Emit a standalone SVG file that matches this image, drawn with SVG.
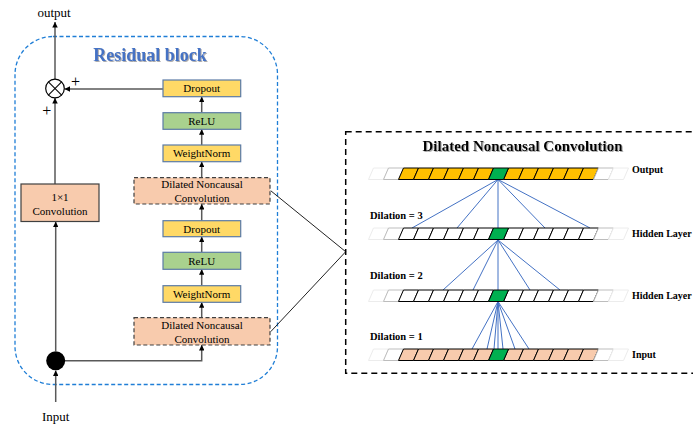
<svg xmlns="http://www.w3.org/2000/svg" xmlns:xlink="http://www.w3.org/1999/xlink" width="693" height="429" viewBox="0 0 693 429">
<style>
text{font-family:"Liberation Serif","Times New Roman",serif;fill:#000}
.lbl{font-size:11px;text-anchor:middle}
.io{font-size:13px;text-anchor:middle}
.rlab{font-size:10px;font-weight:bold}
.dil{font-size:10.5px;font-weight:bold}
.plus{font-size:16px;text-anchor:middle}
.flow{stroke:#595959;stroke-width:1.5;fill:none}
.yel{fill:#FFD966;stroke:#5B7BA6;stroke-width:1.2}
.grn{fill:#A9D18E;stroke:#5B7BA6;stroke-width:1.2}
.dconv{fill:#F8CBAD;stroke:#404040;stroke-width:1.2;stroke-dasharray:4 2.5}
.c-or{fill:#FFC000;stroke:#000;stroke-width:1}
.c-wh{fill:#fff;stroke:#000;stroke-width:1}
.c-in{fill:#F8CBAD;stroke:#000;stroke-width:1}
.c-gr{fill:#00B050;stroke:#000;stroke-width:1}
.c-f1{fill:#fff;stroke:#bdbdbd;stroke-width:1}
.c-f2{fill:#fff;stroke:#ececec;stroke-width:1}
.blue{stroke:#4472C4;stroke-width:1;fill:none}
</style>
<defs>
<marker id="ah" viewBox="0 0 10 10" refX="10" refY="5" markerWidth="5.5" markerHeight="5.5" markerUnits="userSpaceOnUse" orient="auto">
<path d="M0,0 L10,5 L0,10 Z" fill="#000"/>
</marker>
<path id="cell" d="M0,11.5 L5,0 L20,0 L15,11.5 Z"/>
<filter id="sh" x="-5%" y="-20%" width="110%" height="150%">
<feDropShadow dx="1" dy="1" stdDeviation="0.6" flood-color="#888" flood-opacity="0.7"/>
</filter>
</defs>
<rect width="693" height="429" fill="#fff"/>

<g id="residual-block">
<rect x="15" y="36.5" width="262.5" height="348" rx="38" ry="38" fill="none" stroke="#1F7ED6" stroke-width="1.3" stroke-dasharray="4 2.5"/>
<text x="150" y="61" style="font-size:18px;font-weight:bold;fill:#4472C4;text-anchor:middle" filter="url(#sh)">Residual block</text>
</g>

<g id="connectors">
<line class="flow" x1="55" y1="79" x2="55" y2="22" marker-end="url(#ah)"/>
<line class="flow" x1="163" y1="89" x2="64.5" y2="89" marker-end="url(#ah)"/>
<line class="flow" x1="55" y1="184" x2="55" y2="98" marker-end="url(#ah)"/>
<line class="flow" x1="201.7" y1="112.7" x2="201.7" y2="96.7" marker-end="url(#ah)"/>
<line class="flow" x1="201.7" y1="145" x2="201.7" y2="129.3" marker-end="url(#ah)"/>
<line class="flow" x1="201.7" y1="177.7" x2="201.7" y2="161.7" marker-end="url(#ah)"/>
<line class="flow" x1="201.7" y1="220.7" x2="201.7" y2="204" marker-end="url(#ah)"/>
<line class="flow" x1="201.7" y1="252.3" x2="201.7" y2="236.7" marker-end="url(#ah)"/>
<line class="flow" x1="201.7" y1="285.7" x2="201.7" y2="269.3" marker-end="url(#ah)"/>
<line class="flow" x1="201.7" y1="317.7" x2="201.7" y2="302.3" marker-end="url(#ah)"/>
<polyline class="flow" points="65,360.7 201.7,360.7 201.7,345" marker-end="url(#ah)"/>
<line class="flow" x1="55.7" y1="351" x2="55.7" y2="221.7" marker-end="url(#ah)"/>
<line class="flow" x1="55.7" y1="402" x2="55.7" y2="370.5" marker-end="url(#ah)"/>
<line x1="270.7" y1="190.7" x2="345.7" y2="251.7" stroke="#222" stroke-width="1"/>
<line x1="270.7" y1="331.7" x2="345.7" y2="251.7" stroke="#222" stroke-width="1"/>
</g>

<text class="io" x="54" y="17">output</text>
<text class="io" x="55.7" y="421">Input</text>

<g id="sum">
<circle cx="55" cy="88.5" r="9.3" fill="#fff" stroke="#000" stroke-width="1.2"/>
<line x1="48.4" y1="81.9" x2="61.6" y2="95.1" stroke="#000" stroke-width="1.1"/>
<line x1="61.6" y1="81.9" x2="48.4" y2="95.1" stroke="#000" stroke-width="1.1"/>
<text class="plus" x="75.5" y="87">+</text>
<text class="plus" x="46.7" y="116">+</text>
</g>

<g id="split"><circle cx="55.7" cy="360.7" r="9.5" fill="#000"/></g>

<g id="conv1x1">
<rect x="21" y="184" width="78" height="37.5" fill="#F8CBAD" stroke="#404040" stroke-width="1.2"/>
<text class="lbl" x="60" y="201">1×1</text>
<text class="lbl" x="60" y="214.5">Convolution</text>
</g>

<g id="dropout2">
<rect class="yel" x="163" y="80" width="77.7" height="16.7"/>
<text class="lbl" x="201.7" y="92.3">Dropout</text>
</g>
<g id="relu2">
<rect class="grn" x="163" y="112.7" width="77.7" height="16.6"/>
<text class="lbl" x="201.7" y="125">ReLU</text>
</g>
<g id="weightnorm2">
<rect class="yel" x="163" y="145" width="77.7" height="16.7"/>
<text class="lbl" x="201.7" y="157.3">WeightNorm</text>
</g>
<g id="dconv2">
<rect class="dconv" x="134" y="177.7" width="136" height="26.3"/>
<text class="lbl" x="202" y="188.3">Dilated Noncausal</text>
<text class="lbl" x="202" y="202">Convolution</text>
</g>
<g id="dropout1">
<rect class="yel" x="163" y="220.7" width="77.7" height="16"/>
<text class="lbl" x="201.7" y="232.7">Dropout</text>
</g>
<g id="relu1">
<rect class="grn" x="163" y="252.3" width="77.7" height="17"/>
<text class="lbl" x="201.7" y="264.8">ReLU</text>
</g>
<g id="weightnorm1">
<rect class="yel" x="163" y="285.7" width="77.7" height="16.6"/>
<text class="lbl" x="201.7" y="298">WeightNorm</text>
</g>
<g id="dconv1">
<rect class="dconv" x="134" y="317.7" width="136" height="27.3"/>
<text class="lbl" x="202" y="329">Dilated Noncausal</text>
<text class="lbl" x="202" y="342.5">Convolution</text>
</g>

<g id="dilated-panel">
<rect x="345.7" y="131.7" width="360" height="241.6" fill="none" stroke="#000" stroke-width="1.5" stroke-dasharray="6 4"/>
<text x="522.5" y="151" style="font-size:15px;font-weight:bold;text-anchor:middle" filter="url(#sh)">Dilated Noncausal Convolution</text>
</g>

<g id="dilation-lines">
<line class="blue" x1="498" y1="179.5" x2="412" y2="228"/>
<line class="blue" x1="498" y1="179.5" x2="457" y2="228"/>
<line class="blue" x1="498" y1="179.5" x2="498" y2="228"/>
<line class="blue" x1="498" y1="179.5" x2="545" y2="228"/>
<line class="blue" x1="498" y1="179.5" x2="590" y2="228"/>
<line class="blue" x1="498" y1="240" x2="443" y2="290"/>
<line class="blue" x1="498" y1="240" x2="473" y2="290"/>
<line class="blue" x1="498" y1="240" x2="498" y2="290"/>
<line class="blue" x1="498" y1="240" x2="530" y2="290"/>
<line class="blue" x1="498" y1="240" x2="560" y2="290"/>
<line class="blue" x1="498" y1="301.5" x2="472" y2="349"/>
<line class="blue" x1="498" y1="301.5" x2="487" y2="349"/>
<line class="blue" x1="498" y1="301.5" x2="494" y2="349"/>
<line class="blue" x1="498" y1="301.5" x2="498" y2="349"/>
<line class="blue" x1="498" y1="301.5" x2="503" y2="349"/>
<line class="blue" x1="498" y1="301.5" x2="515" y2="349"/>
<line class="blue" x1="498" y1="301.5" x2="529" y2="349"/>
</g>

<g id="output-layer">
<use href="#cell" x="368.5" y="168" class="c-f2"/>
<use href="#cell" x="383.5" y="168" class="c-f1"/>
<use href="#cell" x="398.5" y="168" class="c-or"/>
<use href="#cell" x="413.5" y="168" class="c-or"/>
<use href="#cell" x="428.5" y="168" class="c-or"/>
<use href="#cell" x="443.5" y="168" class="c-or"/>
<use href="#cell" x="458.5" y="168" class="c-or"/>
<use href="#cell" x="473.5" y="168" class="c-or"/>
<use href="#cell" x="503.5" y="168" class="c-or"/>
<use href="#cell" x="518.5" y="168" class="c-or"/>
<use href="#cell" x="533.5" y="168" class="c-or"/>
<use href="#cell" x="548.5" y="168" class="c-or"/>
<use href="#cell" x="563.5" y="168" class="c-or"/>
<use href="#cell" x="578.5" y="168" class="c-or"/>
<use href="#cell" x="593.5" y="168" class="c-f1"/>
<use href="#cell" x="608.5" y="168" class="c-f2"/>
<use href="#cell" x="488.5" y="168" class="c-gr"/>
<text class="rlab" x="632" y="173">Output</text>
</g>

<g id="hidden-layer-1">
<use href="#cell" x="368.5" y="228" class="c-f2"/>
<use href="#cell" x="383.5" y="228" class="c-f1"/>
<use href="#cell" x="398.5" y="228" class="c-wh"/>
<use href="#cell" x="413.5" y="228" class="c-wh"/>
<use href="#cell" x="428.5" y="228" class="c-wh"/>
<use href="#cell" x="443.5" y="228" class="c-wh"/>
<use href="#cell" x="458.5" y="228" class="c-wh"/>
<use href="#cell" x="473.5" y="228" class="c-wh"/>
<use href="#cell" x="503.5" y="228" class="c-wh"/>
<use href="#cell" x="518.5" y="228" class="c-wh"/>
<use href="#cell" x="533.5" y="228" class="c-wh"/>
<use href="#cell" x="548.5" y="228" class="c-wh"/>
<use href="#cell" x="563.5" y="228" class="c-wh"/>
<use href="#cell" x="578.5" y="228" class="c-wh"/>
<use href="#cell" x="593.5" y="228" class="c-f1"/>
<use href="#cell" x="608.5" y="228" class="c-f2"/>
<use href="#cell" x="488.5" y="228" class="c-gr"/>
<text class="rlab" x="632" y="237">Hidden Layer</text>
<text class="dil" x="370" y="218.5">Dilation = 3</text>
</g>

<g id="hidden-layer-2">
<use href="#cell" x="368.5" y="290" class="c-f2"/>
<use href="#cell" x="383.5" y="290" class="c-f1"/>
<use href="#cell" x="398.5" y="290" class="c-wh"/>
<use href="#cell" x="413.5" y="290" class="c-wh"/>
<use href="#cell" x="428.5" y="290" class="c-wh"/>
<use href="#cell" x="443.5" y="290" class="c-wh"/>
<use href="#cell" x="458.5" y="290" class="c-wh"/>
<use href="#cell" x="473.5" y="290" class="c-wh"/>
<use href="#cell" x="503.5" y="290" class="c-wh"/>
<use href="#cell" x="518.5" y="290" class="c-wh"/>
<use href="#cell" x="533.5" y="290" class="c-wh"/>
<use href="#cell" x="548.5" y="290" class="c-wh"/>
<use href="#cell" x="563.5" y="290" class="c-wh"/>
<use href="#cell" x="578.5" y="290" class="c-wh"/>
<use href="#cell" x="593.5" y="290" class="c-f1"/>
<use href="#cell" x="608.5" y="290" class="c-f2"/>
<use href="#cell" x="488.5" y="290" class="c-gr"/>
<text class="rlab" x="632" y="298.5">Hidden Layer</text>
<text class="dil" x="370" y="278.5">Dilation = 2</text>
</g>

<g id="input-layer">
<use href="#cell" x="368.5" y="349" class="c-f2"/>
<use href="#cell" x="383.5" y="349" class="c-f1"/>
<use href="#cell" x="398.5" y="349" class="c-in"/>
<use href="#cell" x="413.5" y="349" class="c-in"/>
<use href="#cell" x="428.5" y="349" class="c-in"/>
<use href="#cell" x="443.5" y="349" class="c-in"/>
<use href="#cell" x="458.5" y="349" class="c-in"/>
<use href="#cell" x="473.5" y="349" class="c-in"/>
<use href="#cell" x="503.5" y="349" class="c-in"/>
<use href="#cell" x="518.5" y="349" class="c-in"/>
<use href="#cell" x="533.5" y="349" class="c-in"/>
<use href="#cell" x="548.5" y="349" class="c-in"/>
<use href="#cell" x="563.5" y="349" class="c-in"/>
<use href="#cell" x="578.5" y="349" class="c-in"/>
<use href="#cell" x="593.5" y="349" class="c-f1"/>
<use href="#cell" x="608.5" y="349" class="c-f2"/>
<use href="#cell" x="488.5" y="349" class="c-gr"/>
<text class="rlab" x="632" y="357.5">Input</text>
<text class="dil" x="370" y="339.5">Dilation = 1</text>
</g>
</svg>
